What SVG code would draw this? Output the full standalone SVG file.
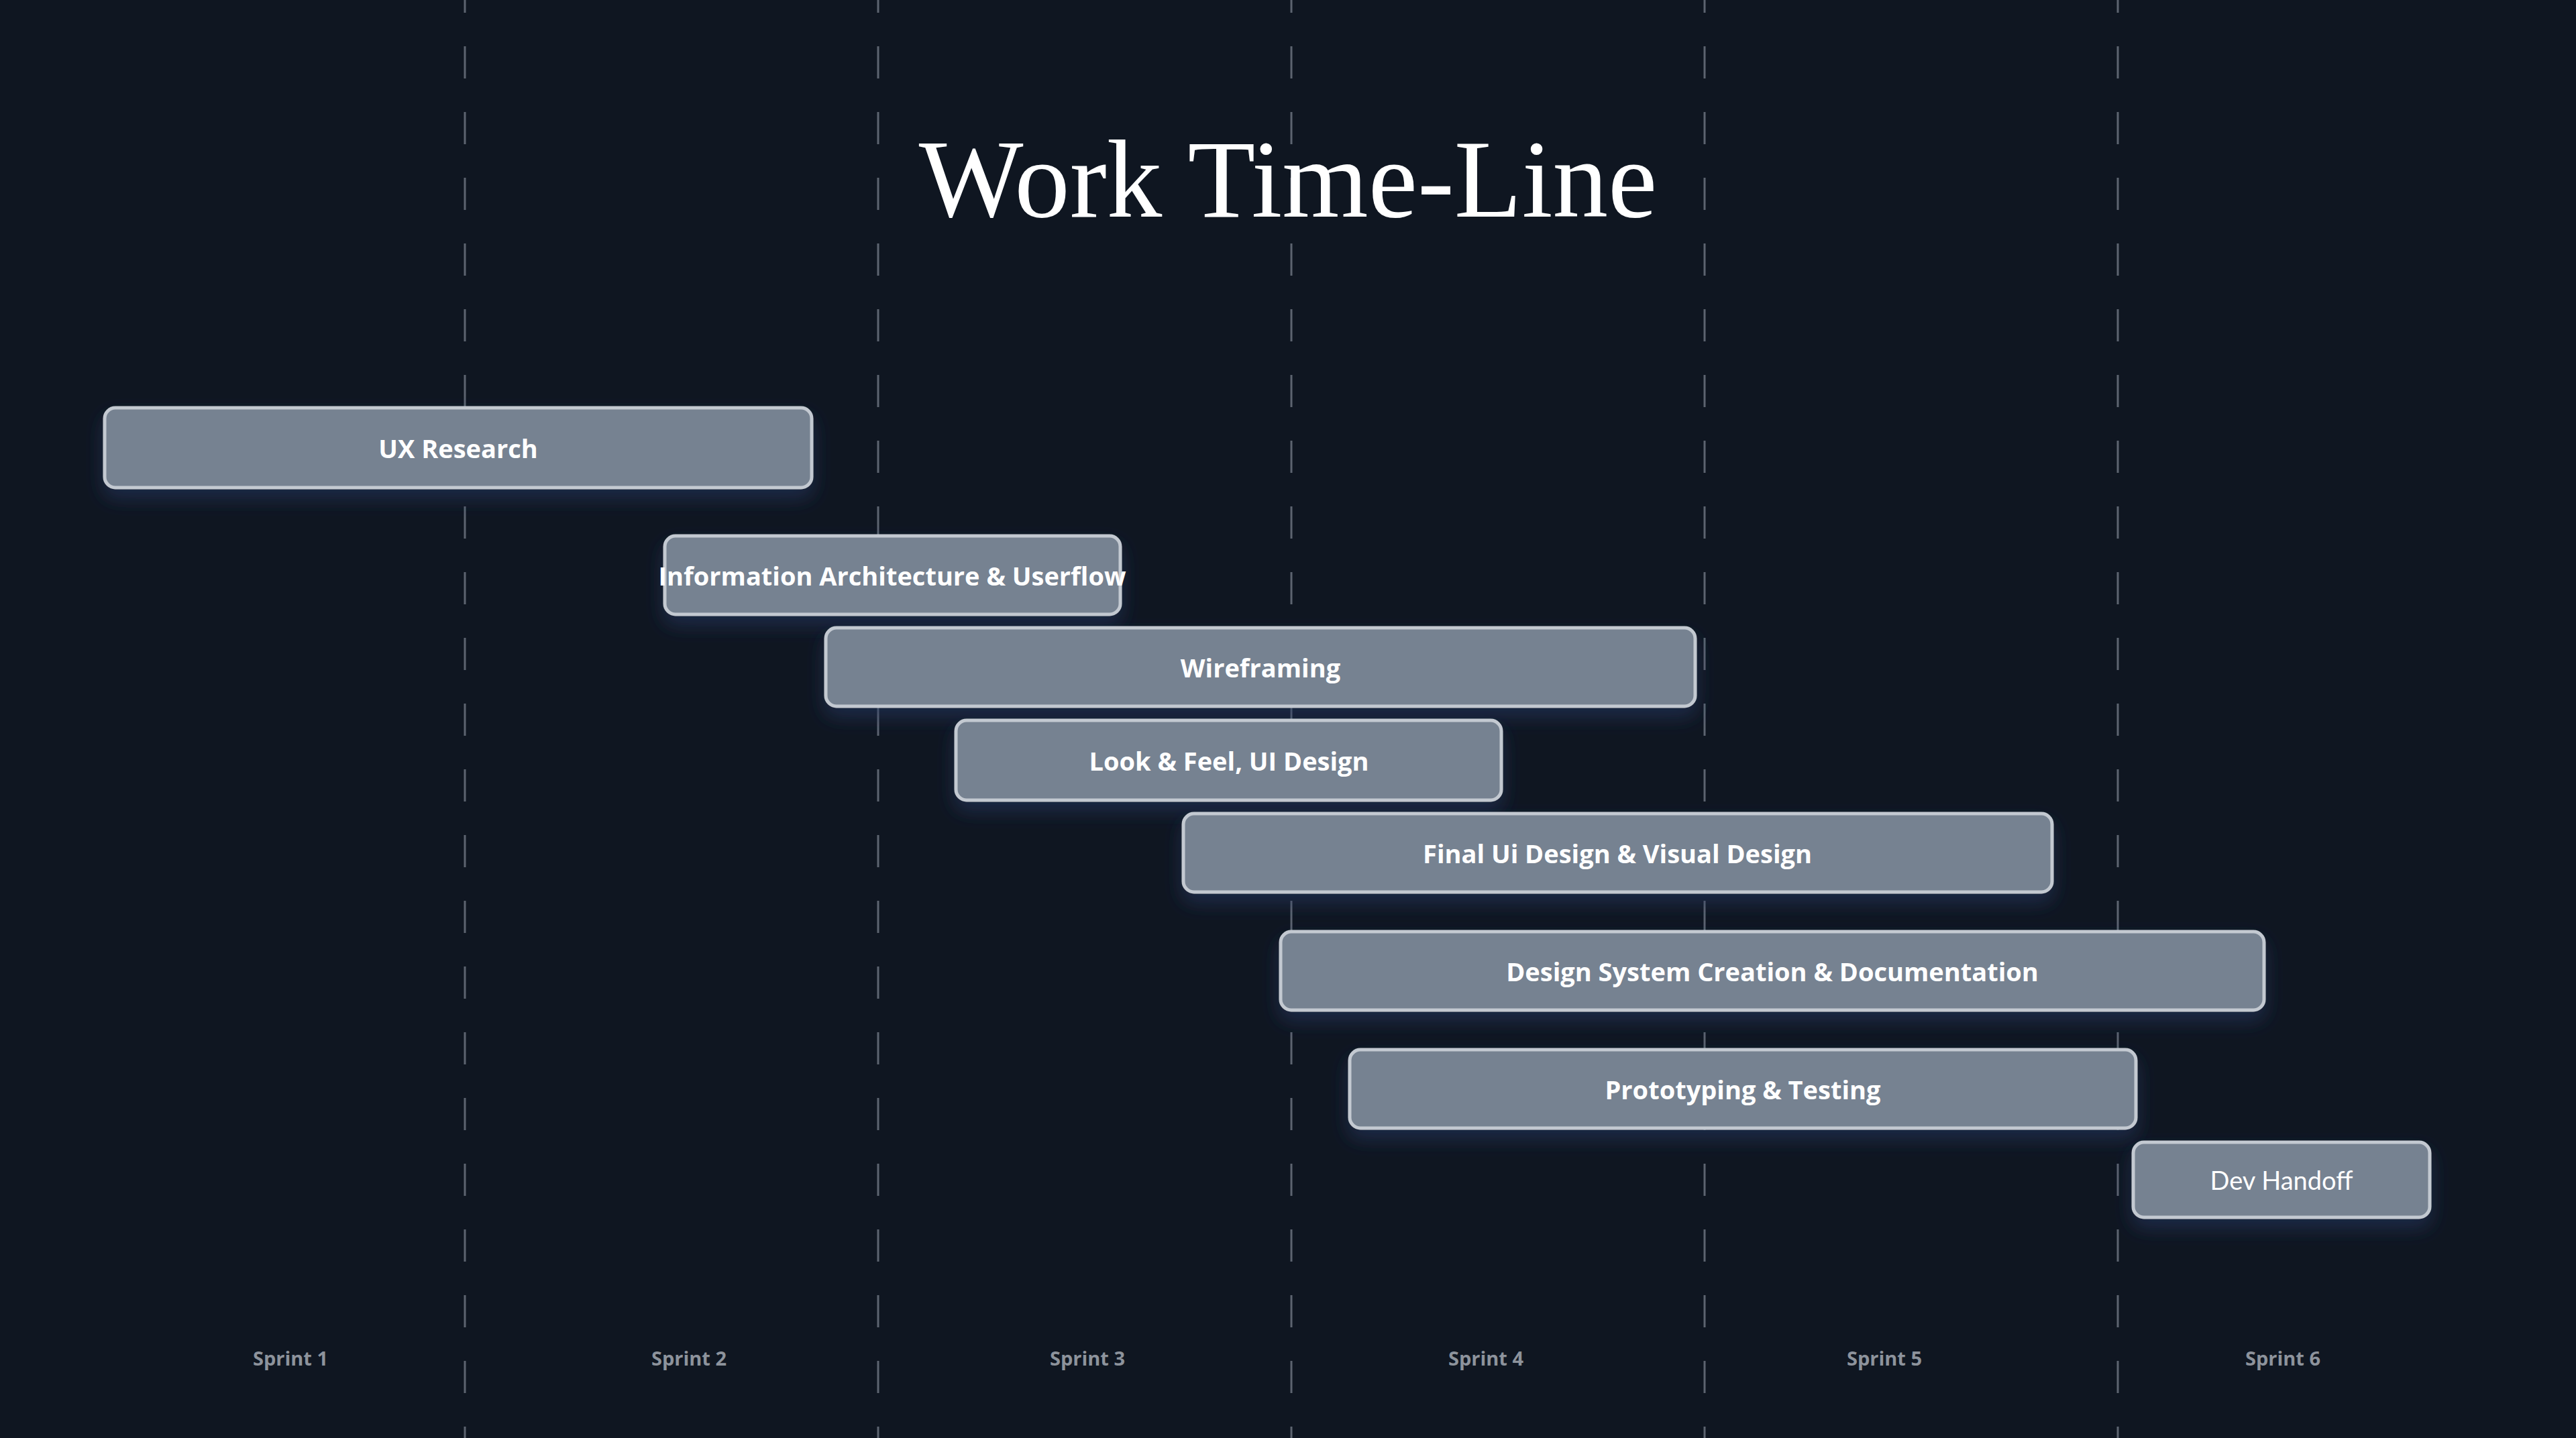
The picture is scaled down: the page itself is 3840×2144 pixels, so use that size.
<svg xmlns="http://www.w3.org/2000/svg" width="3840" height="2144" viewBox="0 0 3840 2144">
<defs>
<style>
.grid{stroke:#5d6470;stroke-width:3;stroke-dasharray:48 50;stroke-dashoffset:29}
.bar{fill:#768291;stroke:#c3c9d1;stroke-width:5;filter:url(#sh)}
.lbl{font-family:"Open Sans","Noto Sans",sans-serif;font-weight:700;font-size:38px;fill:#ffffff;text-anchor:middle;dominant-baseline:central}
.sp{font-family:"Open Sans","Noto Sans",sans-serif;font-weight:700;font-size:29px;fill:#8d939c;text-anchor:middle}
</style>
<filter id="sh" x="-10%" y="-30%" width="120%" height="180%">
<feDropShadow dx="0" dy="14" stdDeviation="14" flood-color="#2a3a66" flood-opacity="0.55"/>
</filter>
</defs>
<rect width="3840" height="2144" fill="#0f1621"/>
<g id="grid">
<line class="grid" x1="693" y1="0" x2="693" y2="2144"/>
<line class="grid" x1="1309" y1="0" x2="1309" y2="2144"/>
<line class="grid" x1="1925" y1="0" x2="1925" y2="2144"/>
<line class="grid" x1="2541" y1="0" x2="2541" y2="2144"/>
<line class="grid" x1="3157" y1="0" x2="3157" y2="2144"/>
</g>
<text x="1920" y="323" font-family="Liberation Serif,serif" font-size="165" fill="#ffffff" text-anchor="middle">Work Time-Line</text>
<g id="connectors"/>
<g id="n1"><rect class="bar" x="156" y="608" width="1054" height="119" rx="16"/><text class="lbl" x="683" y="668">UX Research</text></g>
<g id="n2"><rect class="bar" x="991" y="799" width="679" height="117" rx="16"/><text class="lbl" x="1330" y="858">Information Architecture &amp; Userflow</text></g>
<g id="n3"><rect class="bar" x="1231" y="936" width="1296" height="117" rx="16"/><text class="lbl" x="1879" y="995">Wireframing</text></g>
<g id="n4"><rect class="bar" x="1425" y="1074" width="813" height="119" rx="16"/><text class="lbl" x="1832" y="1134">Look &amp; Feel, UI Design</text></g>
<g id="n5"><rect class="bar" x="1764" y="1213" width="1295" height="117" rx="16"/><text class="lbl" x="2411" y="1272">Final Ui Design &amp; Visual Design</text></g>
<g id="n6"><rect class="bar" x="1909" y="1389" width="1466" height="117" rx="16"/><text class="lbl" x="2642" y="1448">Design System Creation &amp; Documentation</text></g>
<g id="n7"><rect class="bar" x="2012" y="1565" width="1172" height="117" rx="16"/><text class="lbl" x="2598" y="1624">Prototyping &amp; Testing</text></g>
<g id="n8"><rect class="bar" x="3180" y="1703" width="442" height="112" rx="16"/><text class="lbl" x="3401" y="1759" style="font-family:Lato,sans-serif;font-weight:400">Dev Handoff</text></g>
<g id="sprints">
<text class="sp" x="433" y="2036">Sprint 1</text>
<text class="sp" x="1027" y="2036">Sprint 2</text>
<text class="sp" x="1621" y="2036">Sprint 3</text>
<text class="sp" x="2215" y="2036">Sprint 4</text>
<text class="sp" x="2809" y="2036">Sprint 5</text>
<text class="sp" x="3403" y="2036">Sprint 6</text>
</g>
</svg>
